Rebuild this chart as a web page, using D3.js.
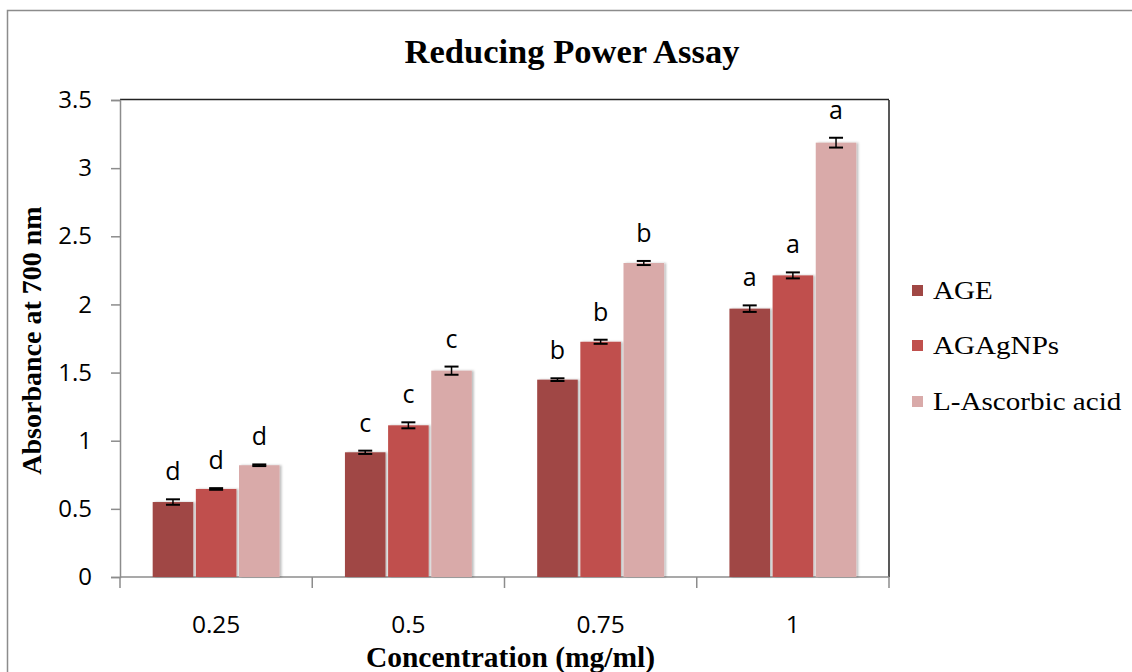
<!DOCTYPE html>
<html><head><meta charset="utf-8">
<script src="https://cdn.jsdelivr.net/npm/d3@7"></script>
<style>
body{margin:0;background:#fff;}
svg{display:block;}
</style></head>
<body><svg id="chart" width="1132" height="672"></svg>
<script>
const categories = ["0.25", "0.5", "0.75", "1"];
const seriesNames = ["AGE", "AGAgNPs", "L-Ascorbic acid"];
const valuesAGE = [0.55, 0.915, 1.448, 1.969];
const valuesAGAgNPs = [0.646, 1.113, 1.726, 2.213];
const valuesAscorbic = [0.82, 1.514, 2.304, 3.187];
const errAGE = [0.02, 0.012, 0.01, 0.024];
const errAGAgNPs = [0.006, 0.022, 0.015, 0.022];
const errAscorbic = [0.006, 0.03, 0.015, 0.036];
const lettersAGE = ["d", "c", "b", "a"];
const lettersAGAgNPs = ["d", "c", "b", "a"];
const lettersAscorbic = ["d", "c", "b", "a"];
const yTicks = [0, 0.5, 1, 1.5, 2, 2.5, 3, 3.5];
const colors = ["#a04744", "#c0504d", "#d9aaa9"];

const values = [valuesAGE, valuesAGAgNPs, valuesAscorbic];
const errs = [errAGE, errAGAgNPs, errAscorbic];
const letters = [lettersAGE, lettersAGAgNPs, lettersAscorbic];

const svg = d3.select("#chart");
const plot = {left: 120, right: 889, top: 100, bottom: 577};

// outer border
svg.append("rect").attr("x", 7.5).attr("y", 10.5).attr("width", 1140).attr("height", 700)
  .attr("fill", "#fff").attr("stroke", "#8c8c8c").attr("stroke-width", 1.5);

const defs = svg.append("defs");
const f = defs.append("filter").attr("id", "sh").attr("x", "-20%").attr("y", "-5%").attr("width", "150%").attr("height", "110%");
f.append("feDropShadow").attr("dx", 2).attr("dy", 0).attr("stdDeviation", 1.2).attr("flood-color", "#000").attr("flood-opacity", 0.25);

const y = d3.scaleLinear().domain([0, 3.5]).range([plot.bottom, plot.top]);
const x0 = d3.scaleBand().domain(categories).range([plot.left, plot.right]).paddingInner(0.34).paddingOuter(0.17);
const x1 = d3.scaleBand().domain(seriesNames).range([0, x0.bandwidth()]).paddingInner(0.06);
const xEdges = d3.scaleBand().domain(categories).range([plot.left, plot.right]);

// plot frame (top & right)
svg.append("line").attr("x1", plot.left).attr("x2", plot.right).attr("y1", plot.top - 0.5).attr("y2", plot.top - 0.5)
  .attr("stroke", "#222").attr("stroke-width", 1.5);
svg.append("line").attr("x1", plot.right).attr("x2", plot.right).attr("y1", plot.top).attr("y2", plot.bottom)
  .attr("stroke", "#222").attr("stroke-width", 1.5);

// y axis
const yAxis = d3.axisLeft(y).tickValues(yTicks).tickFormat(d => String(d)).tickSize(9).tickPadding(19);
const gy = svg.append("g").attr("transform", `translate(${plot.left},0)`).call(yAxis);
gy.select(".domain").attr("stroke", "#8c8c8c").attr("stroke-width", 1.5);
gy.selectAll(".tick line").attr("stroke", "#8c8c8c").attr("stroke-width", 1.5);
gy.selectAll(".tick text").attr("font-family", "'Open Sans', sans-serif").attr("font-size", 24).attr("fill", "#000");

// x axis
const gx = svg.append("g").attr("transform", `translate(0,${plot.bottom})`);
gx.append("line").attr("x1", plot.left).attr("x2", plot.right).attr("y1", 0).attr("y2", 0)
  .attr("stroke", "#8c8c8c").attr("stroke-width", 1.5);
const edges = categories.map(c => xEdges(c)).concat([plot.right]);
gx.selectAll("line.tk").data(edges).join("line").attr("class", "tk")
  .attr("x1", d => d).attr("x2", d => d).attr("y1", 0).attr("y2", 11)
  .attr("stroke", "#8c8c8c").attr("stroke-width", 1.5);
gx.selectAll("text.tl").data(categories).join("text").attr("class", "tl")
  .attr("x", d => x0(d) + x0.bandwidth() / 2).attr("y", 56)
  .attr("text-anchor", "middle").attr("font-family", "'Open Sans', sans-serif").attr("font-size", 24.5).attr("fill", "#000")
  .text(d => d);

// bars
const data = [];
categories.forEach((c, i) => seriesNames.forEach((s, j) => {
  data.push({c, s, j, v: values[j][i], e: errs[j][i], l: letters[j][i]});
}));
const g = svg.append("g");
g.selectAll("rect.bar").data(data).join("rect").attr("class", "bar")
  .attr("x", d => x0(d.c) + x1(d.s)).attr("width", x1.bandwidth())
  .attr("y", d => y(d.v)).attr("height", d => y(0) - y(d.v))
  .attr("fill", d => colors[d.j]).attr("filter", "url(#sh)");

// error bars
const cap = 7;
const eg = g.selectAll("g.err").data(data).join("g").attr("class", "err")
  .attr("transform", d => `translate(${x0(d.c) + x1(d.s) + x1.bandwidth() / 2},0)`);
eg.append("line").attr("x1", 0).attr("x2", 0).attr("y1", d => y(d.v + d.e)).attr("y2", d => y(d.v - d.e))
  .attr("stroke", "#000").attr("stroke-width", 1.5);
eg.append("line").attr("x1", -cap).attr("x2", cap).attr("y1", d => y(d.v + d.e)).attr("y2", d => y(d.v + d.e))
  .attr("stroke", "#000").attr("stroke-width", 2);
eg.append("line").attr("x1", -cap).attr("x2", cap).attr("y1", d => y(d.v - d.e)).attr("y2", d => y(d.v - d.e))
  .attr("stroke", "#000").attr("stroke-width", 2);
eg.append("text").attr("x", 0).attr("y", d => y(d.v + d.e) - 19)
  .attr("text-anchor", "middle").attr("font-family", "'Open Sans', sans-serif").attr("font-size", 25).attr("fill", "#000")
  .text(d => d.l);

// title
svg.append("text").attr("x", 572).attr("y", 63).attr("text-anchor", "middle")
  .attr("font-family", "'Liberation Serif', 'Times New Roman', serif").attr("font-weight", "bold").attr("font-size", 34.5)
  .text("Reducing Power Assay");

// axis titles
svg.append("text").attr("transform", `translate(41,${(203 + 478) / 2}) rotate(-90)`).attr("text-anchor", "middle")
  .attr("font-family", "'Liberation Serif', 'Times New Roman', serif").attr("font-weight", "bold").attr("font-size", 28)
  .text("Absorbance at 700 nm");
svg.append("text").attr("x", (363 + 658) / 2).attr("y", 667).attr("text-anchor", "middle")
  .attr("font-family", "'Liberation Serif', 'Times New Roman', serif").attr("font-weight", "bold").attr("font-size", 29.5)
  .text("Concentration (mg/ml)");

// legend
const lg = svg.append("g").attr("transform", "translate(912,0)");
const legY = [291, 346, 402];
const li = lg.selectAll("g").data(seriesNames).join("g").attr("transform", (d, i) => `translate(0,${legY[i]})`);
li.append("rect").attr("x", 0).attr("y", -6).attr("width", 11).attr("height", 11).attr("fill", (d, i) => colors[i]);
li.append("text").attr("transform", "translate(21,8) scale(1.12,1)").attr("font-family", "'Liberation Serif', 'Times New Roman', serif")
  .attr("font-size", 26).attr("fill", "#000").text(d => d);
</script></body></html>
